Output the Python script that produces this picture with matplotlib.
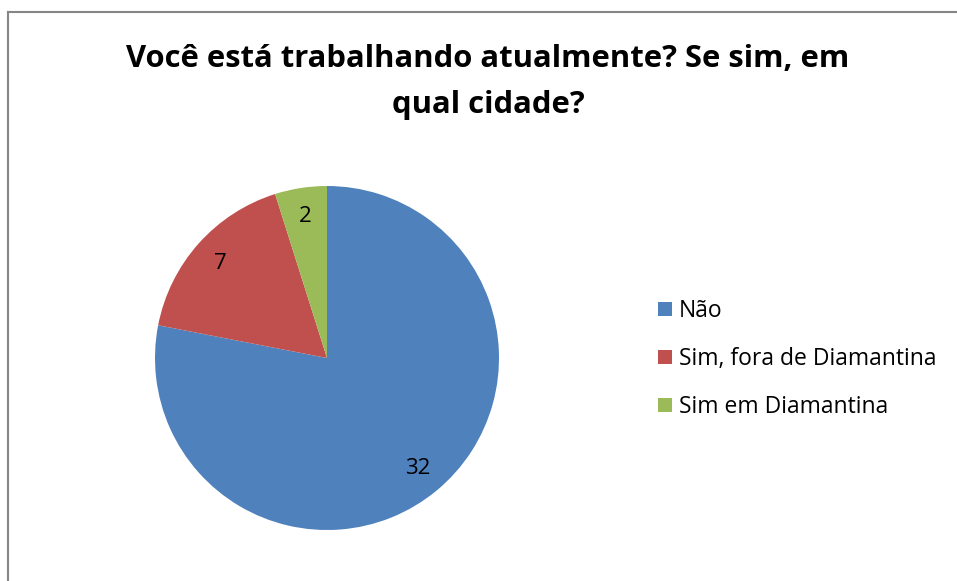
import matplotlib.pyplot as plt
from matplotlib.lines import Line2D

labels = ["Não", "Sim, fora de Diamantina", "Sim em Diamantina"]
values = [32, 7, 2]
colors = ["#4F81BD", "#C0504D", "#9BBB59"]

plt.rcParams["font.family"] = ["Open Sans", "DejaVu Sans"]

W, H = 957, 581
fig = plt.figure(figsize=(W / 100, H / 100), dpi=100)

# chart area border (only left and top visible)
fig.add_artist(Line2D([8 / W, 8 / W], [0, 1 - 12 / H], color="#868686", lw=1.5))
fig.add_artist(Line2D([8 / W, 1], [1 - 12 / H, 1 - 12 / H], color="#868686", lw=1.5))

cx, cy, r = 327, 358, 172
ax = fig.add_axes([(cx - r) / W, (H - cy - r) / H, 2 * r / W, 2 * r / H])
wedges, texts, autotexts = ax.pie(
    values,
    colors=colors,
    startangle=90,
    counterclock=False,
    autopct=lambda p: "%d" % round(p * sum(values) / 100),
    pctdistance=0.83,
    textprops={"fontsize": 16, "color": "black"},
    wedgeprops={"linewidth": 0},
)
ax.set_xlim(-1, 1)
ax.set_ylim(-1, 1)
ax.set_aspect("auto")
ax.axis("off")

fig.text(488 / W, 1 - 82 / H, "Você está trabalhando atualmente? Se sim, em\nqual cidade?",
         ha="center", va="center", fontsize=22.3, fontweight="bold", linespacing=1.7)

fig.legend(wedges, labels, loc="upper left", bbox_to_anchor=(658 / W, 1 - 299 / H),
           frameon=False, fontsize=16.5, handlelength=0.6, handleheight=0.6,
           handletextpad=0.3, labelspacing=1.05, borderpad=0, borderaxespad=0)

fig.savefig("out.png", dpi=100)
